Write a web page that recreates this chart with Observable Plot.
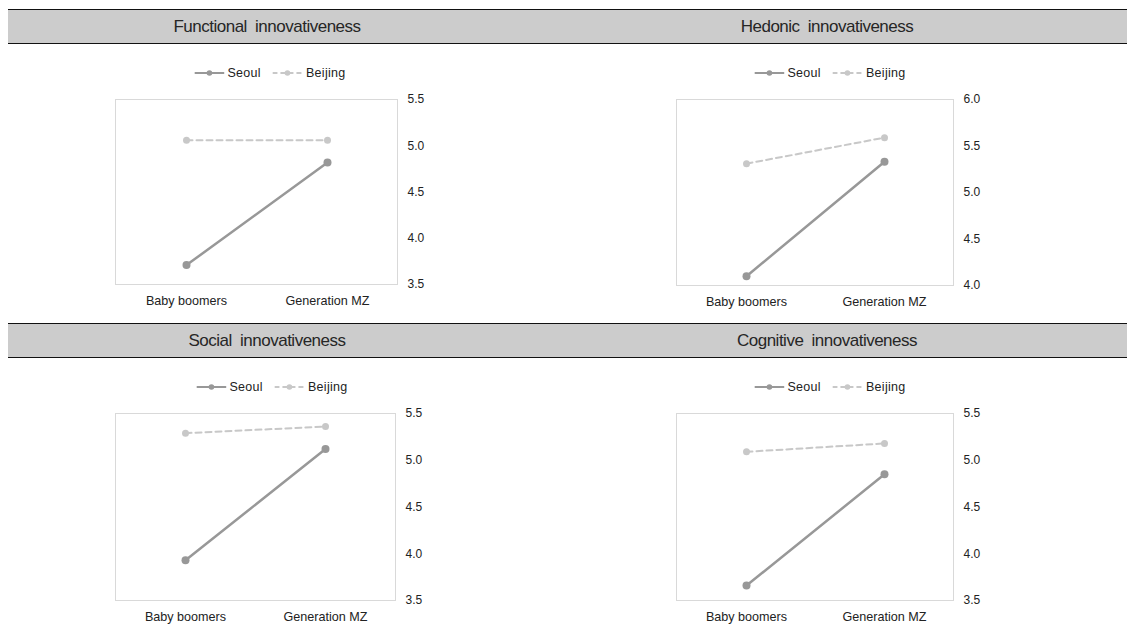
<!DOCTYPE html>
<html>
<head>
<meta charset="utf-8">
<script src="https://cdn.jsdelivr.net/npm/d3@7"></script>
<script src="https://cdn.jsdelivr.net/npm/@observablehq/plot@0.6"></script>
<style>
  html, body { margin: 0; padding: 0; background: #fff; }
  #root { position: relative; width: 1127px; height: 634px; overflow: hidden; font-family: "Liberation Sans", Arial, sans-serif; color: #222; }
  .band { position: absolute; left: 8px; right: 0; height: 33px; background: #cccccc; border-top: 1.5px solid #111; border-bottom: 1.5px solid #111; }
  .title { position: absolute; transform: translate(-50%, -50%); font-size: 17px; letter-spacing: -0.5px; word-spacing: 4px; white-space: nowrap; color: #262626; }
  .legend { position: absolute; transform: translate(-50%, -50%); display: flex; align-items: center; font-size: 12.5px; white-space: nowrap; color: #222; letter-spacing: 0.3px; }
  .legend span.item { display: flex; align-items: center; margin-right: 12px; }
  .legend span.item:last-child { margin-right: 0; }
  .legend svg { margin-right: 3px; }
  .chart { position: absolute; }
  .chart g[aria-label="x-axis tick label"] { font-size: 12.6px; }
</style>
</head>
<body>
<div id="root"></div>
<script>
// ---- data ----
const panelTitles = ["Functional innovativeness", "Hedonic innovativeness", "Social innovativeness", "Cognitive innovativeness"];
const generations = ["Baby boomers", "Generation MZ"];
const seriesNames = ["Seoul", "Beijing"];
const seoulValues = [[3.71, 4.82], [4.10, 5.33], [3.93, 5.12], [3.66, 4.85]];
const beijingValues = [[5.06, 5.06], [5.31, 5.59], [5.29, 5.36], [5.09, 5.18]];
const yTickLabels = [
  [3.5, 4.0, 4.5, 5.0, 5.5],
  [4.0, 4.5, 5.0, 5.5, 6.0],
  [3.5, 4.0, 4.5, 5.0, 5.5],
  [3.5, 4.0, 4.5, 5.0, 5.5]
];

// ---- styles / layout ----
const seoulColor = "#989898";
const beijingColor = "#c8c8c8";
const layout = [
  {left: 0,   top: 88,  w: 563, mL: 115, mR: 166, mB: 34, titleX: 267, legendX: 270, legendY: 73,  titleY: 27},
  {left: 563, top: 88,  w: 564, mL: 113, mR: 174, mB: 33, titleX: 827, legendX: 830, legendY: 73,  titleY: 27},
  {left: 0,   top: 402, w: 563, mL: 115, mR: 168, mB: 32, titleX: 267, legendX: 272, legendY: 387, titleY: 341},
  {left: 563, top: 402, w: 564, mL: 113, mR: 174, mB: 32, titleX: 827, legendX: 830, legendY: 387, titleY: 341}
];
const H = 230;

const root = document.getElementById("root");

[9, 323].forEach(t => {
  const b = document.createElement("div");
  b.className = "band";
  b.style.top = t + "px";
  root.appendChild(b);
});

function legendSwatch(color, dashed) {
  const ns = "http://www.w3.org/2000/svg";
  const s = document.createElementNS(ns, "svg");
  s.setAttribute("width", 30); s.setAttribute("height", 10);
  const l = document.createElementNS(ns, "line");
  l.setAttribute("x1", 0); l.setAttribute("x2", 30); l.setAttribute("y1", 5); l.setAttribute("y2", 5);
  l.setAttribute("stroke", color); l.setAttribute("stroke-width", 2);
  if (dashed) l.setAttribute("stroke-dasharray", "5,3");
  const c = document.createElementNS(ns, "circle");
  c.setAttribute("cx", 15); c.setAttribute("cy", 5); c.setAttribute("r", 2.8); c.setAttribute("fill", color);
  s.appendChild(l); s.appendChild(c);
  return s;
}

panelTitles.forEach((title, i) => {
  const L = layout[i];
  const t = document.createElement("div");
  t.className = "title";
  t.style.left = L.titleX + "px";
  t.style.top = L.titleY + "px";
  t.textContent = title;
  root.appendChild(t);

  const lg = document.createElement("div");
  lg.className = "legend";
  lg.style.left = L.legendX + "px";
  lg.style.top = L.legendY + "px";
  [[seriesNames[0], seoulColor, false], [seriesNames[1], beijingColor, true]].forEach(([name, col, d]) => {
    const it = document.createElement("span");
    it.className = "item";
    it.appendChild(legendSwatch(col, d));
    const tx = document.createElement("span");
    tx.textContent = name;
    it.appendChild(tx);
    lg.appendChild(it);
  });
  root.appendChild(lg);

  const rows = [];
  generations.forEach((g, j) => {
    rows.push({series: seriesNames[0], gen: g, value: seoulValues[i][j]});
    rows.push({series: seriesNames[1], gen: g, value: beijingValues[i][j]});
  });
  const seoulRows = rows.filter(r => r.series === seriesNames[0]);
  const beijingRows = rows.filter(r => r.series === seriesNames[1]);
  const ticks = yTickLabels[i];

  const chart = Plot.plot({
    width: L.w,
    height: H,
    marginTop: 11,
    marginBottom: L.mB,
    marginLeft: L.mL,
    marginRight: L.mR,
    style: {fontFamily: "Liberation Sans, Arial, sans-serif", fontSize: "12px", color: "#222", background: "transparent"},
    x: {type: "point", domain: generations, padding: 0.5},
    y: {domain: [ticks[0], ticks[ticks.length - 1]]},
    marks: [
      Plot.frame({stroke: "#d9d9d9"}),
      Plot.axisY({anchor: "right", ticks: ticks, tickSize: 0, tickPadding: 10, tickFormat: d => d.toFixed(1), label: null}),
      Plot.axisX({tickSize: 0, tickPadding: 12, label: null}),
      Plot.line(beijingRows, {x: "gen", y: "value", stroke: beijingColor, strokeWidth: 2, strokeDasharray: "6,4"}),
      Plot.line(seoulRows, {x: "gen", y: "value", stroke: seoulColor, strokeWidth: 2.5}),
      Plot.dot(beijingRows, {x: "gen", y: "value", fill: beijingColor, r: 3.5}),
      Plot.dot(seoulRows, {x: "gen", y: "value", fill: seoulColor, r: 4})
    ]
  });
  chart.classList.add("chart");
  chart.style.left = L.left + "px";
  chart.style.top = L.top + "px";
  chart.style.position = "absolute";
  root.appendChild(chart);
});
</script>
</body>
</html>
